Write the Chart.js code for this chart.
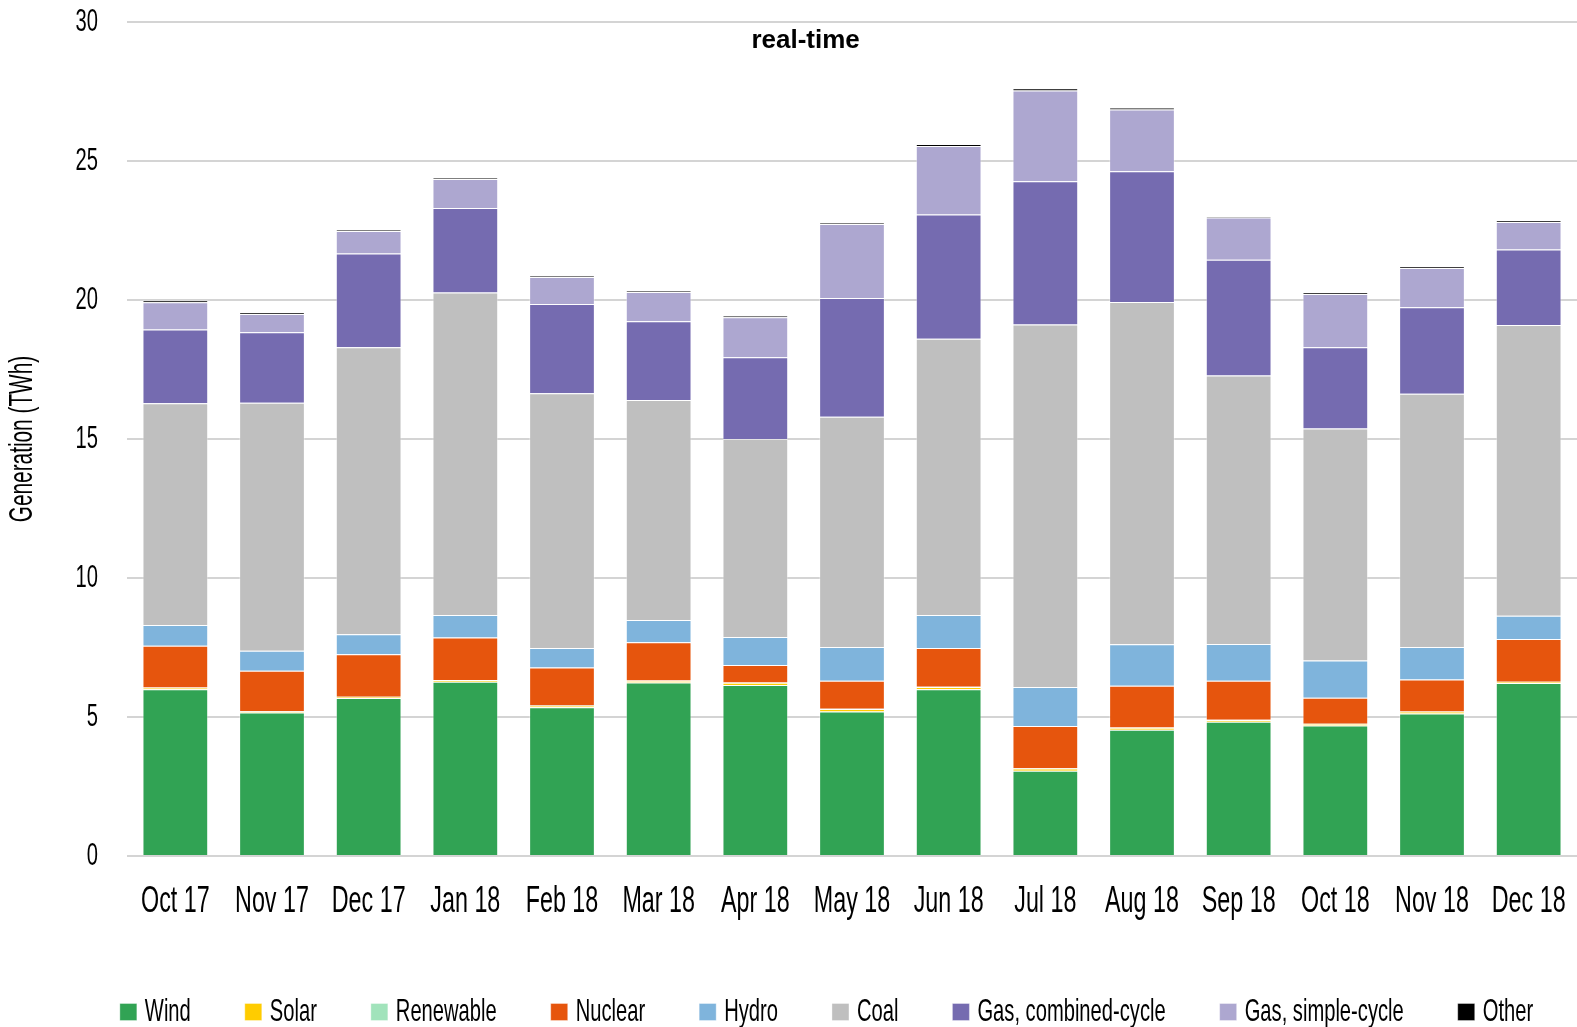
<!DOCTYPE html>
<html>
<head>
<meta charset="utf-8">
<script src="https://cdn.jsdelivr.net/npm/chart.js@4.4.0/dist/chart.umd.min.js"></script>
<style>
html, body { margin: 0; padding: 0; background: #fff; }
#wrap { width: 1577px; height: 1027px; }
</style>
</head>
<body>
<div id="wrap"><canvas id="myChart"></canvas></div>
<script>
// Maanden en waarden (TWh) per bron
const months = ['Oct 17', 'Nov 17', 'Dec 17', 'Jan 18', 'Feb 18', 'Mar 18', 'Apr 18', 'May 18',
    'Jun 18', 'Jul 18', 'Aug 18', 'Sep 18', 'Oct 18', 'Nov 18', 'Dec 18'];
const wind = [6.00, 5.16, 5.68, 6.27, 5.35, 6.24, 6.15, 5.20, 6.00, 3.07, 4.54, 4.83, 4.69, 5.13, 6.22];
const solar = [0.05, 0.04, 0.04, 0.05, 0.05, 0.06, 0.08, 0.09, 0.08, 0.08, 0.07, 0.06, 0.06, 0.06, 0.04];
const renewable = [0.01, 0.01, 0.01, 0.01, 0.01, 0.01, 0.01, 0.01, 0.01, 0.01, 0.01, 0.01, 0.01, 0.01, 0.01];
const nuclear = [1.50, 1.45, 1.53, 1.53, 1.37, 1.38, 0.63, 1.00, 1.39, 1.52, 1.50, 1.40, 0.93, 1.15, 1.54];
const hydro = [0.75, 0.72, 0.72, 0.81, 0.70, 0.80, 1.01, 1.22, 1.19, 1.40, 1.50, 1.33, 1.34, 1.17, 0.83];
const coal = [7.98, 8.92, 10.32, 11.60, 9.17, 7.91, 7.12, 8.28, 9.94, 13.04, 12.31, 9.65, 8.35, 9.11, 10.46];
const gasCC = [2.65, 2.54, 3.37, 3.04, 3.21, 2.84, 2.94, 4.27, 4.47, 5.15, 4.70, 4.17, 2.92, 3.11, 2.72];
const gasSC = [0.98, 0.66, 0.81, 1.04, 0.97, 1.05, 1.44, 2.66, 2.46, 3.27, 2.22, 1.52, 1.92, 1.41, 0.99];
const other = [0.07, 0.04, 0.04, 0.04, 0.03, 0.04, 0.06, 0.05, 0.07, 0.08, 0.07, 0.04, 0.05, 0.05, 0.04];

const yTicks = [0, 5, 10, 15, 20, 25, 30];

const FONT = "'Liberation Sans', Arial, sans-serif";
// geen smalle lettertypes beschikbaar: tekst horizontaal samendrukken
const SQUEEZE = 0.63;

function serie(label, values, color) {
    return {
        label: label,
        data: values,
        backgroundColor: color,
        borderColor: 'rgba(255, 255, 255, 0.35)',
        borderWidth: 1,
        stack: 'gen'
    };
}

const ctx = document.getElementById('myChart').getContext('2d');
const rawFillText = ctx.fillText.bind(ctx);
const rawMeasureText = ctx.measureText.bind(ctx);
ctx.fillText = function (text, x, y) {
    ctx.save();
    // legendateksten (links uitgelijnd) dichter bij het vakje
    const dx = ctx.textAlign === 'left' ? -8 : 0;
    ctx.translate(x + dx, y);
    ctx.scale(SQUEEZE, 1);
    rawFillText(text, 0, 0);
    ctx.restore();
};
ctx.measureText = function (text) {
    const m = rawMeasureText(text);
    return {
        width: m.width * SQUEEZE,
        actualBoundingBoxAscent: m.actualBoundingBoxAscent,
        actualBoundingBoxDescent: m.actualBoundingBoxDescent,
        actualBoundingBoxLeft: m.actualBoundingBoxLeft * SQUEEZE,
        actualBoundingBoxRight: m.actualBoundingBoxRight * SQUEEZE
    };
};

// titel binnen het plotgebied, legenda iets naar rechts
const extraPlugin = {
    id: 'extra',
    afterLayout(chart) {
        chart.legend.left += 42;
        chart.legend.right += 42;
    },
    afterDraw(chart) {
        const a = chart.chartArea;
        ctx.save();
        ctx.font = "bold 26px 'Liberation Sans', sans-serif";
        ctx.fillStyle = '#000';
        ctx.textAlign = 'center';
        ctx.textBaseline = 'middle';
        rawFillText('real-time', a.left + a.width * 0.468, a.top + 19);
        ctx.restore();
    }
};

const myChart = new Chart(ctx, {
    type: 'bar',
    data: {
        labels: months,
        datasets: [
            serie('Wind', wind, '#31a354'),
            serie('Solar', solar, '#ffcc00'),
            serie('Renewable', renewable, '#a1e3bb'),
            serie('Nuclear', nuclear, '#e6550d'),
            serie('Hydro', hydro, '#7fb4dc'),
            serie('Coal', coal, '#bfbfbf'),
            serie('Gas, combined-cycle', gasCC, '#756bb0'),
            serie('Gas, simple-cycle', gasSC, '#ada7d0'),
            serie('Other', other, '#000000')
        ]
    },
    options: {
        responsive: true,
        maintainAspectRatio: false,
        animation: false,
        layout: { padding: { top: 22, left: 0, right: 0, bottom: -11 } },
        datasets: { bar: { categoryPercentage: 0.68, barPercentage: 1 } },
        plugins: {
            title: { display: false },
            tooltip: { enabled: false },
            legend: {
                position: 'bottom',
                labels: {
                    boxWidth: 17,
                    boxHeight: 17,
                    padding: 46,
                    color: '#000',
                    font: { family: FONT, size: 32 }
                }
            }
        },
        scales: {
            x: {
                stacked: true,
                grid: { display: false, drawTicks: false },
                border: { display: false },
                ticks: { color: '#000', font: { family: FONT, size: 37 }, padding: 24, maxRotation: 0, autoSkip: false },
                afterFit(scale) {
                    scale.height = 94;
                    scale.paddingLeft = 0;
                    scale.paddingRight = 0;
                }
            },
            y: {
                stacked: true,
                min: 0,
                max: 30,
                afterBuildTicks(scale) { scale.ticks = yTicks.map(v => ({ value: v })); },
                grid: { color: '#d4d4d4', lineWidth: 2, drawTicks: false },
                border: { display: false },
                ticks: { color: '#000', font: { family: FONT, size: 32 }, padding: 29 },
                title: {
                    display: true,
                    text: 'Generation (TWh)',
                    color: '#000',
                    font: { family: FONT, size: 33 },
                    padding: { top: 3, bottom: 0 }
                },
                afterFit(scale) {
                    scale.width = 127;
                    scale.paddingTop = 0;
                    scale.paddingBottom = 0;
                }
            }
        }
    },
    plugins: [extraPlugin]
});
</script>
</body>
</html>
